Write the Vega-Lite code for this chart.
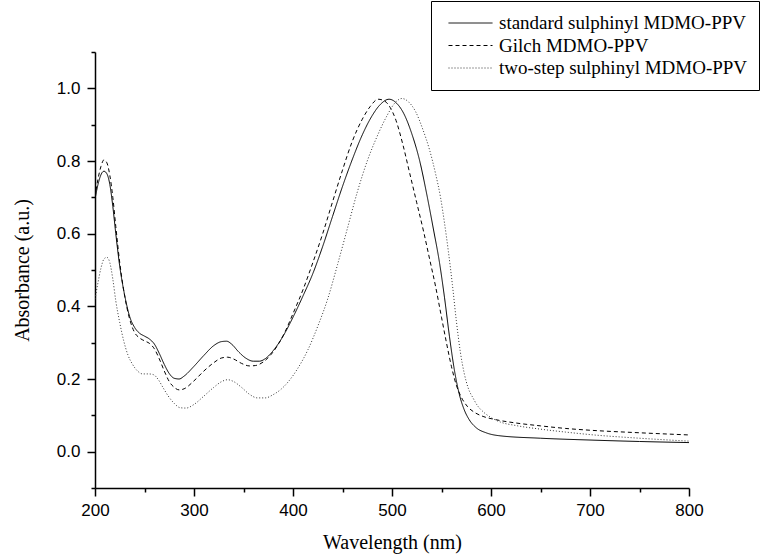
{
  "$schema": "https://vega.github.io/schema/vega-lite/v6.json",
  "autosize": {"type": "none"},
  "width": 594,
  "height": 436,
  "padding": {"left": 95, "top": 52, "right": 73, "bottom": 67},
  "background": "white",
  "config": {
    "view": {"stroke": null},
    "axis": {
      "grid": false,
      "domainColor": "black",
      "domainWidth": 1.5,
      "tickColor": "black",
      "tickWidth": 1.5,
      "labelColor": "black",
      "labelFont": "Liberation Sans",
      "labelFontSize": 17,
      "titleFont": "Liberation Serif",
      "titleFontSize": 20,
      "titleFontWeight": "normal",
      "titleColor": "black"
    },
    "legend": {
      "labelFont": "Liberation Serif",
      "labelFontSize": 19,
      "labelColor": "black",
      "labelLimit": 0
    }
  },
  "datasets": {
    "spectra": [
      {"s": "standard sulphinyl MDMO-PPV", "w": 200, "a": 0.695},
      {"s": "standard sulphinyl MDMO-PPV", "w": 203, "a": 0.735},
      {"s": "standard sulphinyl MDMO-PPV", "w": 206, "a": 0.762},
      {"s": "standard sulphinyl MDMO-PPV", "w": 209, "a": 0.772},
      {"s": "standard sulphinyl MDMO-PPV", "w": 212, "a": 0.765},
      {"s": "standard sulphinyl MDMO-PPV", "w": 215, "a": 0.735},
      {"s": "standard sulphinyl MDMO-PPV", "w": 218, "a": 0.675},
      {"s": "standard sulphinyl MDMO-PPV", "w": 221, "a": 0.6},
      {"s": "standard sulphinyl MDMO-PPV", "w": 225, "a": 0.51},
      {"s": "standard sulphinyl MDMO-PPV", "w": 230, "a": 0.43},
      {"s": "standard sulphinyl MDMO-PPV", "w": 235, "a": 0.372},
      {"s": "standard sulphinyl MDMO-PPV", "w": 240, "a": 0.342},
      {"s": "standard sulphinyl MDMO-PPV", "w": 245, "a": 0.326},
      {"s": "standard sulphinyl MDMO-PPV", "w": 250, "a": 0.318},
      {"s": "standard sulphinyl MDMO-PPV", "w": 255, "a": 0.31},
      {"s": "standard sulphinyl MDMO-PPV", "w": 260, "a": 0.296},
      {"s": "standard sulphinyl MDMO-PPV", "w": 265, "a": 0.27},
      {"s": "standard sulphinyl MDMO-PPV", "w": 270, "a": 0.24},
      {"s": "standard sulphinyl MDMO-PPV", "w": 275, "a": 0.215},
      {"s": "standard sulphinyl MDMO-PPV", "w": 280, "a": 0.202},
      {"s": "standard sulphinyl MDMO-PPV", "w": 285, "a": 0.2},
      {"s": "standard sulphinyl MDMO-PPV", "w": 290, "a": 0.208},
      {"s": "standard sulphinyl MDMO-PPV", "w": 300, "a": 0.235},
      {"s": "standard sulphinyl MDMO-PPV", "w": 310, "a": 0.265},
      {"s": "standard sulphinyl MDMO-PPV", "w": 320, "a": 0.292},
      {"s": "standard sulphinyl MDMO-PPV", "w": 328, "a": 0.303},
      {"s": "standard sulphinyl MDMO-PPV", "w": 333, "a": 0.304},
      {"s": "standard sulphinyl MDMO-PPV", "w": 338, "a": 0.296},
      {"s": "standard sulphinyl MDMO-PPV", "w": 345, "a": 0.275},
      {"s": "standard sulphinyl MDMO-PPV", "w": 352, "a": 0.258},
      {"s": "standard sulphinyl MDMO-PPV", "w": 360, "a": 0.249},
      {"s": "standard sulphinyl MDMO-PPV", "w": 366, "a": 0.249},
      {"s": "standard sulphinyl MDMO-PPV", "w": 372, "a": 0.256},
      {"s": "standard sulphinyl MDMO-PPV", "w": 380, "a": 0.278},
      {"s": "standard sulphinyl MDMO-PPV", "w": 390, "a": 0.318},
      {"s": "standard sulphinyl MDMO-PPV", "w": 400, "a": 0.37},
      {"s": "standard sulphinyl MDMO-PPV", "w": 410, "a": 0.428},
      {"s": "standard sulphinyl MDMO-PPV", "w": 420, "a": 0.49},
      {"s": "standard sulphinyl MDMO-PPV", "w": 430, "a": 0.565},
      {"s": "standard sulphinyl MDMO-PPV", "w": 440, "a": 0.648},
      {"s": "standard sulphinyl MDMO-PPV", "w": 450, "a": 0.73},
      {"s": "standard sulphinyl MDMO-PPV", "w": 460, "a": 0.805},
      {"s": "standard sulphinyl MDMO-PPV", "w": 470, "a": 0.872},
      {"s": "standard sulphinyl MDMO-PPV", "w": 480, "a": 0.925},
      {"s": "standard sulphinyl MDMO-PPV", "w": 488, "a": 0.955},
      {"s": "standard sulphinyl MDMO-PPV", "w": 497, "a": 0.97},
      {"s": "standard sulphinyl MDMO-PPV", "w": 505, "a": 0.958},
      {"s": "standard sulphinyl MDMO-PPV", "w": 512, "a": 0.93},
      {"s": "standard sulphinyl MDMO-PPV", "w": 520, "a": 0.875},
      {"s": "standard sulphinyl MDMO-PPV", "w": 528, "a": 0.8},
      {"s": "standard sulphinyl MDMO-PPV", "w": 535, "a": 0.71},
      {"s": "standard sulphinyl MDMO-PPV", "w": 542, "a": 0.61},
      {"s": "standard sulphinyl MDMO-PPV", "w": 548, "a": 0.52},
      {"s": "standard sulphinyl MDMO-PPV", "w": 553, "a": 0.425},
      {"s": "standard sulphinyl MDMO-PPV", "w": 558, "a": 0.318},
      {"s": "standard sulphinyl MDMO-PPV", "w": 563, "a": 0.225},
      {"s": "standard sulphinyl MDMO-PPV", "w": 568, "a": 0.158},
      {"s": "standard sulphinyl MDMO-PPV", "w": 573, "a": 0.115},
      {"s": "standard sulphinyl MDMO-PPV", "w": 578, "a": 0.088},
      {"s": "standard sulphinyl MDMO-PPV", "w": 585, "a": 0.066},
      {"s": "standard sulphinyl MDMO-PPV", "w": 595, "a": 0.052},
      {"s": "standard sulphinyl MDMO-PPV", "w": 608, "a": 0.044},
      {"s": "standard sulphinyl MDMO-PPV", "w": 650, "a": 0.037},
      {"s": "standard sulphinyl MDMO-PPV", "w": 700, "a": 0.032},
      {"s": "standard sulphinyl MDMO-PPV", "w": 750, "a": 0.028},
      {"s": "standard sulphinyl MDMO-PPV", "w": 800, "a": 0.025},

      {"s": "Gilch MDMO-PPV", "w": 200, "a": 0.7},
      {"s": "Gilch MDMO-PPV", "w": 203, "a": 0.75},
      {"s": "Gilch MDMO-PPV", "w": 206, "a": 0.785},
      {"s": "Gilch MDMO-PPV", "w": 209, "a": 0.803},
      {"s": "Gilch MDMO-PPV", "w": 212, "a": 0.795},
      {"s": "Gilch MDMO-PPV", "w": 215, "a": 0.76},
      {"s": "Gilch MDMO-PPV", "w": 218, "a": 0.7},
      {"s": "Gilch MDMO-PPV", "w": 221, "a": 0.62},
      {"s": "Gilch MDMO-PPV", "w": 225, "a": 0.52},
      {"s": "Gilch MDMO-PPV", "w": 230, "a": 0.428},
      {"s": "Gilch MDMO-PPV", "w": 235, "a": 0.365},
      {"s": "Gilch MDMO-PPV", "w": 240, "a": 0.328},
      {"s": "Gilch MDMO-PPV", "w": 245, "a": 0.313},
      {"s": "Gilch MDMO-PPV", "w": 250, "a": 0.305},
      {"s": "Gilch MDMO-PPV", "w": 255, "a": 0.298},
      {"s": "Gilch MDMO-PPV", "w": 260, "a": 0.283},
      {"s": "Gilch MDMO-PPV", "w": 265, "a": 0.255},
      {"s": "Gilch MDMO-PPV", "w": 270, "a": 0.222},
      {"s": "Gilch MDMO-PPV", "w": 275, "a": 0.193},
      {"s": "Gilch MDMO-PPV", "w": 280, "a": 0.177},
      {"s": "Gilch MDMO-PPV", "w": 285, "a": 0.17},
      {"s": "Gilch MDMO-PPV", "w": 290, "a": 0.173},
      {"s": "Gilch MDMO-PPV", "w": 300, "a": 0.195},
      {"s": "Gilch MDMO-PPV", "w": 310, "a": 0.222},
      {"s": "Gilch MDMO-PPV", "w": 320, "a": 0.245},
      {"s": "Gilch MDMO-PPV", "w": 328, "a": 0.258},
      {"s": "Gilch MDMO-PPV", "w": 334, "a": 0.26},
      {"s": "Gilch MDMO-PPV", "w": 340, "a": 0.255},
      {"s": "Gilch MDMO-PPV", "w": 348, "a": 0.243},
      {"s": "Gilch MDMO-PPV", "w": 356, "a": 0.236},
      {"s": "Gilch MDMO-PPV", "w": 362, "a": 0.237},
      {"s": "Gilch MDMO-PPV", "w": 370, "a": 0.247},
      {"s": "Gilch MDMO-PPV", "w": 378, "a": 0.268},
      {"s": "Gilch MDMO-PPV", "w": 385, "a": 0.295},
      {"s": "Gilch MDMO-PPV", "w": 392, "a": 0.33},
      {"s": "Gilch MDMO-PPV", "w": 400, "a": 0.38},
      {"s": "Gilch MDMO-PPV", "w": 410, "a": 0.445},
      {"s": "Gilch MDMO-PPV", "w": 420, "a": 0.52},
      {"s": "Gilch MDMO-PPV", "w": 430, "a": 0.6},
      {"s": "Gilch MDMO-PPV", "w": 440, "a": 0.688},
      {"s": "Gilch MDMO-PPV", "w": 450, "a": 0.775},
      {"s": "Gilch MDMO-PPV", "w": 460, "a": 0.855},
      {"s": "Gilch MDMO-PPV", "w": 470, "a": 0.915},
      {"s": "Gilch MDMO-PPV", "w": 478, "a": 0.95},
      {"s": "Gilch MDMO-PPV", "w": 486, "a": 0.97},
      {"s": "Gilch MDMO-PPV", "w": 492, "a": 0.966},
      {"s": "Gilch MDMO-PPV", "w": 498, "a": 0.948},
      {"s": "Gilch MDMO-PPV", "w": 504, "a": 0.912},
      {"s": "Gilch MDMO-PPV", "w": 511, "a": 0.845},
      {"s": "Gilch MDMO-PPV", "w": 518, "a": 0.765},
      {"s": "Gilch MDMO-PPV", "w": 525, "a": 0.685},
      {"s": "Gilch MDMO-PPV", "w": 532, "a": 0.605},
      {"s": "Gilch MDMO-PPV", "w": 538, "a": 0.53},
      {"s": "Gilch MDMO-PPV", "w": 544, "a": 0.455},
      {"s": "Gilch MDMO-PPV", "w": 550, "a": 0.37},
      {"s": "Gilch MDMO-PPV", "w": 555, "a": 0.3},
      {"s": "Gilch MDMO-PPV", "w": 560, "a": 0.235},
      {"s": "Gilch MDMO-PPV", "w": 565, "a": 0.183},
      {"s": "Gilch MDMO-PPV", "w": 570, "a": 0.15},
      {"s": "Gilch MDMO-PPV", "w": 576, "a": 0.125},
      {"s": "Gilch MDMO-PPV", "w": 584, "a": 0.107},
      {"s": "Gilch MDMO-PPV", "w": 592, "a": 0.097},
      {"s": "Gilch MDMO-PPV", "w": 605, "a": 0.088},
      {"s": "Gilch MDMO-PPV", "w": 625, "a": 0.079},
      {"s": "Gilch MDMO-PPV", "w": 650, "a": 0.071},
      {"s": "Gilch MDMO-PPV", "w": 675, "a": 0.064},
      {"s": "Gilch MDMO-PPV", "w": 700, "a": 0.059},
      {"s": "Gilch MDMO-PPV", "w": 750, "a": 0.052},
      {"s": "Gilch MDMO-PPV", "w": 800, "a": 0.046},

      {"s": "two-step sulphinyl MDMO-PPV", "w": 200, "a": 0.42},
      {"s": "two-step sulphinyl MDMO-PPV", "w": 203, "a": 0.465},
      {"s": "two-step sulphinyl MDMO-PPV", "w": 206, "a": 0.505},
      {"s": "two-step sulphinyl MDMO-PPV", "w": 209, "a": 0.53},
      {"s": "two-step sulphinyl MDMO-PPV", "w": 212, "a": 0.535},
      {"s": "two-step sulphinyl MDMO-PPV", "w": 215, "a": 0.52},
      {"s": "two-step sulphinyl MDMO-PPV", "w": 218, "a": 0.475},
      {"s": "two-step sulphinyl MDMO-PPV", "w": 221, "a": 0.415},
      {"s": "two-step sulphinyl MDMO-PPV", "w": 225, "a": 0.355},
      {"s": "two-step sulphinyl MDMO-PPV", "w": 229, "a": 0.305},
      {"s": "two-step sulphinyl MDMO-PPV", "w": 233, "a": 0.268},
      {"s": "two-step sulphinyl MDMO-PPV", "w": 238, "a": 0.24},
      {"s": "two-step sulphinyl MDMO-PPV", "w": 243, "a": 0.222},
      {"s": "two-step sulphinyl MDMO-PPV", "w": 248, "a": 0.214},
      {"s": "two-step sulphinyl MDMO-PPV", "w": 254, "a": 0.214},
      {"s": "two-step sulphinyl MDMO-PPV", "w": 259, "a": 0.212},
      {"s": "two-step sulphinyl MDMO-PPV", "w": 264, "a": 0.198},
      {"s": "two-step sulphinyl MDMO-PPV", "w": 269, "a": 0.175},
      {"s": "two-step sulphinyl MDMO-PPV", "w": 274, "a": 0.153},
      {"s": "two-step sulphinyl MDMO-PPV", "w": 280, "a": 0.133},
      {"s": "two-step sulphinyl MDMO-PPV", "w": 286, "a": 0.121},
      {"s": "two-step sulphinyl MDMO-PPV", "w": 292, "a": 0.12},
      {"s": "two-step sulphinyl MDMO-PPV", "w": 300, "a": 0.13},
      {"s": "two-step sulphinyl MDMO-PPV", "w": 310, "a": 0.153},
      {"s": "two-step sulphinyl MDMO-PPV", "w": 320, "a": 0.177},
      {"s": "two-step sulphinyl MDMO-PPV", "w": 328, "a": 0.193},
      {"s": "two-step sulphinyl MDMO-PPV", "w": 334, "a": 0.198},
      {"s": "two-step sulphinyl MDMO-PPV", "w": 340, "a": 0.193},
      {"s": "two-step sulphinyl MDMO-PPV", "w": 348, "a": 0.177},
      {"s": "two-step sulphinyl MDMO-PPV", "w": 356, "a": 0.158},
      {"s": "two-step sulphinyl MDMO-PPV", "w": 364, "a": 0.148},
      {"s": "two-step sulphinyl MDMO-PPV", "w": 372, "a": 0.148},
      {"s": "two-step sulphinyl MDMO-PPV", "w": 380, "a": 0.157},
      {"s": "two-step sulphinyl MDMO-PPV", "w": 388, "a": 0.172},
      {"s": "two-step sulphinyl MDMO-PPV", "w": 396, "a": 0.195},
      {"s": "two-step sulphinyl MDMO-PPV", "w": 405, "a": 0.23},
      {"s": "two-step sulphinyl MDMO-PPV", "w": 415, "a": 0.28},
      {"s": "two-step sulphinyl MDMO-PPV", "w": 425, "a": 0.345},
      {"s": "two-step sulphinyl MDMO-PPV", "w": 435, "a": 0.42},
      {"s": "two-step sulphinyl MDMO-PPV", "w": 445, "a": 0.515},
      {"s": "two-step sulphinyl MDMO-PPV", "w": 455, "a": 0.615},
      {"s": "two-step sulphinyl MDMO-PPV", "w": 465, "a": 0.715},
      {"s": "two-step sulphinyl MDMO-PPV", "w": 475, "a": 0.8},
      {"s": "two-step sulphinyl MDMO-PPV", "w": 485, "a": 0.868},
      {"s": "two-step sulphinyl MDMO-PPV", "w": 495, "a": 0.925},
      {"s": "two-step sulphinyl MDMO-PPV", "w": 503, "a": 0.96},
      {"s": "two-step sulphinyl MDMO-PPV", "w": 510, "a": 0.972},
      {"s": "two-step sulphinyl MDMO-PPV", "w": 517, "a": 0.962},
      {"s": "two-step sulphinyl MDMO-PPV", "w": 524, "a": 0.935},
      {"s": "two-step sulphinyl MDMO-PPV", "w": 531, "a": 0.888},
      {"s": "two-step sulphinyl MDMO-PPV", "w": 538, "a": 0.83},
      {"s": "two-step sulphinyl MDMO-PPV", "w": 544, "a": 0.765},
      {"s": "two-step sulphinyl MDMO-PPV", "w": 549, "a": 0.7},
      {"s": "two-step sulphinyl MDMO-PPV", "w": 553, "a": 0.63},
      {"s": "two-step sulphinyl MDMO-PPV", "w": 557, "a": 0.55},
      {"s": "two-step sulphinyl MDMO-PPV", "w": 561, "a": 0.46},
      {"s": "two-step sulphinyl MDMO-PPV", "w": 565, "a": 0.36},
      {"s": "two-step sulphinyl MDMO-PPV", "w": 569, "a": 0.275},
      {"s": "two-step sulphinyl MDMO-PPV", "w": 573, "a": 0.215},
      {"s": "two-step sulphinyl MDMO-PPV", "w": 577, "a": 0.175},
      {"s": "two-step sulphinyl MDMO-PPV", "w": 582, "a": 0.147},
      {"s": "two-step sulphinyl MDMO-PPV", "w": 586, "a": 0.128},
      {"s": "two-step sulphinyl MDMO-PPV", "w": 592, "a": 0.11},
      {"s": "two-step sulphinyl MDMO-PPV", "w": 600, "a": 0.094},
      {"s": "two-step sulphinyl MDMO-PPV", "w": 610, "a": 0.081},
      {"s": "two-step sulphinyl MDMO-PPV", "w": 625, "a": 0.072},
      {"s": "two-step sulphinyl MDMO-PPV", "w": 650, "a": 0.062},
      {"s": "two-step sulphinyl MDMO-PPV", "w": 675, "a": 0.054},
      {"s": "two-step sulphinyl MDMO-PPV", "w": 700, "a": 0.047},
      {"s": "two-step sulphinyl MDMO-PPV", "w": 750, "a": 0.037},
      {"s": "two-step sulphinyl MDMO-PPV", "w": 800, "a": 0.029}
    ]
  },
  "data": {"name": "spectra"},
  "layer": [
    {
      "mark": {"type": "line", "interpolate": "monotone", "strokeWidth": 1, "clip": true},
      "encoding": {
        "x": {
          "field": "w", "type": "quantitative",
          "scale": {"domain": [200, 800], "nice": false, "zero": false},
          "axis": {
            "title": "Wavelength (nm)",
            "values": [200, 300, 400, 500, 600, 700, 800],
            "tickSize": 8,
            "labelPadding": 6,
            "titlePadding": 14,
            "labelFlush": false,
            "labelOverlap": false
          }
        },
        "y": {
          "field": "a", "type": "quantitative",
          "scale": {"domain": [-0.1, 1.1], "nice": false, "zero": false},
          "axis": {
            "title": "Absorbance (a.u.)",
            "values": [0, 0.2, 0.4, 0.6, 0.8, 1.0],
            "format": ".1f",
            "tickSize": 8,
            "labelPadding": 7,
            "titlePadding": 24,
            "labelFlush": false,
            "labelOverlap": false
          }
        },
        "color": {
          "field": "s", "type": "nominal",
          "scale": {
            "domain": ["standard sulphinyl MDMO-PPV", "Gilch MDMO-PPV", "two-step sulphinyl MDMO-PPV"],
            "range": ["#000000", "#000000", "#333333"]
          },
          "legend": {
            "title": null,
            "orient": "none",
            "legendX": 336,
            "legendY": -51,
            "strokeColor": "black",
            "fillColor": "white",
            "padding": 11,
            "symbolType": "stroke",
            "symbolSize": 1936,
            "symbolStrokeWidth": 1,
            "symbolOffset": 6,
            "labelOffset": 6,
            "labelLimit": 0,
            "clipHeight": 22,
            "rowPadding": 0.5
          }
        },
        "strokeDash": {
          "field": "s", "type": "nominal",
          "scale": {
            "domain": ["standard sulphinyl MDMO-PPV", "Gilch MDMO-PPV", "two-step sulphinyl MDMO-PPV"],
            "range": [[1, 0], [4, 3], [1, 2]]
          },
          "legend": {
            "title": null,
            "orient": "none",
            "legendX": 336,
            "legendY": -51,
            "strokeColor": "black",
            "fillColor": "white",
            "padding": 11,
            "symbolType": "stroke",
            "symbolSize": 1936,
            "symbolStrokeWidth": 1,
            "symbolOffset": 6,
            "labelOffset": 6,
            "labelLimit": 0,
            "clipHeight": 22,
            "rowPadding": 0.5
          }
        }
      }
    },
    {
      "mark": {"type": "point", "opacity": 0, "size": 1},
      "encoding": {
        "x": {
          "field": "w", "type": "quantitative",
          "axis": {
            "orient": "bottom",
            "title": null,
            "values": [250, 350, 450, 550, 650, 750],
            "labels": false,
            "domain": false,
            "tickSize": 4
          }
        },
        "y": {
          "field": "a", "type": "quantitative",
          "axis": {
            "orient": "left",
            "title": null,
            "values": [-0.1, 0.1, 0.3, 0.5, 0.7, 0.9, 1.1],
            "labels": false,
            "domain": false,
            "tickSize": 4
          }
        }
      }
    }
  ],
  "resolve": {"axis": {"x": "independent", "y": "independent"}}
}
